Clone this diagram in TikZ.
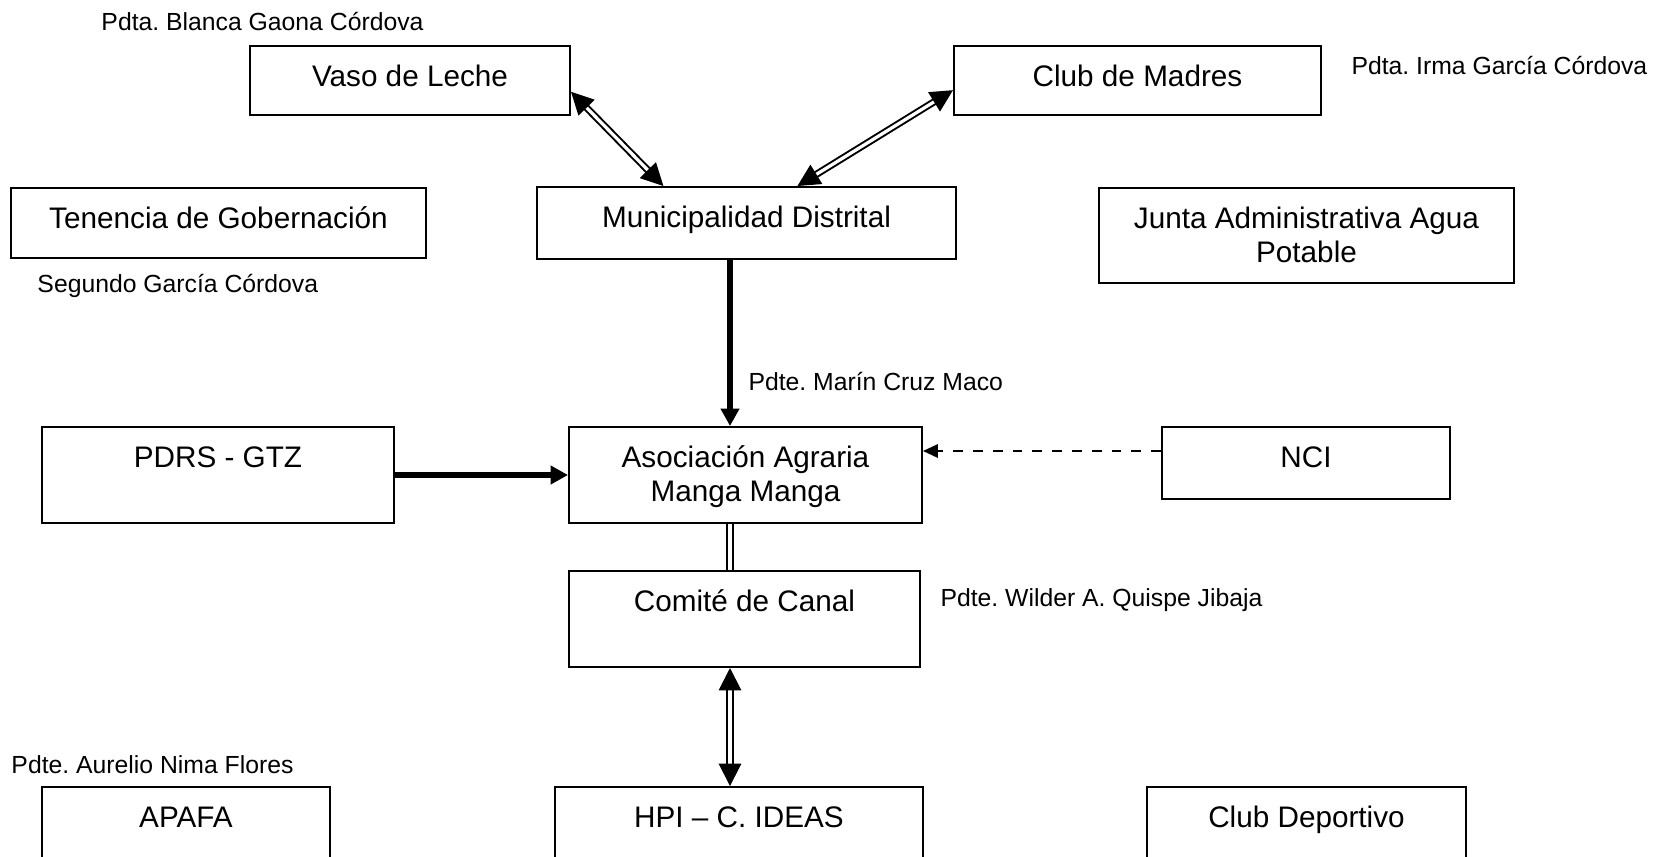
\documentclass[tikz,border=0pt]{standalone}
\usepackage{fontspec}
\setmainfont{Liberation Sans}
\frenchspacing
\usetikzlibrary{arrows.meta,fit}
\tikzset{
  caja/.style={draw,line width=0.8pt,inner sep=0pt},
  titulo/.style={anchor=base,yshift=-16.6pt,inner sep=0pt,align=center,
    font=\fontsize{12}{13.8}\selectfont},
  dos lineas/.style={yshift=-13.8pt},
  cargo/.style={anchor=base west,inner sep=0pt,font=\fontsize{10}{12}\selectfont},
  flecha/.style={line width=2.6pt,-{Triangle[length=7pt,width=7.2pt]}},
  doble/.style={double,double distance=1.3pt,line width=0.8pt},
  dobleflecha/.style={doble,{Triangle[length=9pt,width=9pt]}-{Triangle[length=9pt,width=9pt]}},
  apoyo/.style={line width=0.8pt,dash pattern=on 4pt off 4pt,-{Triangle[length=6pt,width=5.4pt]}}
}
\begin{document}
\begin{tikzpicture}[x=0.404pt,y=-0.404pt]
	\path[use as bounding box,clip] (0,0) rectangle (1657,856);
	% cajas
	\node[caja,fit={(250,46) (570,115)}] (vaso) {};
	\node[caja,fit={(954,46) (1321,115)}] (madres) {};
	\node[caja,fit={(11,188) (426,258)}] (tenencia) {};
	\node[caja,fit={(537,187) (956,259)}] (muni) {};
	\node[caja,fit={(1099,188) (1514,283)}] (junta) {};
	\node[caja,fit={(42,427) (394,523)}] (pdrs) {};
	\node[caja,fit={(569,427) (922,523)}] (asoc) {};
	\node[caja,fit={(1162,427) (1450,499)}] (nci) {};
	\node[caja,fit={(569,571) (920,667)}] (comite) {};
	\node[caja,fit={(42,787) (330,900)}] (apafa) {};
	\node[caja,fit={(555,787) (923,900)}] (hpi) {};
	\node[caja,fit={(1147,787) (1466,900)}] (deportivo) {};
	% nombres
	\node[titulo] (vasoT) at (vaso.north) {Vaso de Leche};
	\node[titulo] (madresT) at (madres.north) {Club de Madres};
	\node[titulo] (tenenciaT) at (tenencia.north) {Tenencia de Gobernación};
	\node[titulo] (muniT) at (muni.north) {Municipalidad Distrital};
	\node[titulo,dos lineas] (juntaT) at (junta.north) {Junta Administrativa Agua\\Potable};
	\node[titulo] (pdrsT) at (pdrs.north) {PDRS - GTZ};
	\node[titulo,dos lineas] (asocT) at (asoc.north) {Asociación Agraria\\Manga Manga};
	\node[titulo] (nciT) at (nci.north) {NCI};
	\node[titulo] (comiteT) at (comite.north) {Comité de Canal};
	\node[titulo] (apafaT) at (apafa.north) {APAFA};
	\node[titulo] (hpiT) at (hpi.north) {HPI – C. IDEAS};
	\node[titulo] (deportivoT) at (deportivo.north) {Club Deportivo};
	% presidentes
	\node[cargo] (blanca) at (101,30) {Pdta. Blanca Gaona Córdova};
	\node[cargo] (irma) at (1351,74) {Pdta. Irma García Córdova};
	\node[cargo] (segundo) at (37,292) {Segundo García Córdova};
	\node[cargo] (marin) at (748,390) {Pdte. Marín Cruz Maco};
	\node[cargo] (wilder) at (940,606) {Pdte. Wilder A. Quispe Jibaja};
	\node[cargo] (aurelio) at (11,773) {Pdte. Aurelio Nima Flores};
	% relaciones
	\draw[dobleflecha] (vaso.-4) -- (muni.156);
	\draw[dobleflecha] (madres.183.6) -- (muni.36.6);
	\draw[flecha] (muni.south -| 730,0) -- (asoc.north -| 730,0);
	\draw[flecha] (pdrs.east) -- (asoc.west);
	\draw[apoyo] (nci.west |- 0,451) -- (asoc.east |- 0,451);
	\draw[doble] (asoc.south -| 730,0) -- (comite.north -| 730,0);
	\draw[dobleflecha] (comite.south -| 730,0) -- (hpi.north -| 730,0);
\end{tikzpicture}
\end{document}
